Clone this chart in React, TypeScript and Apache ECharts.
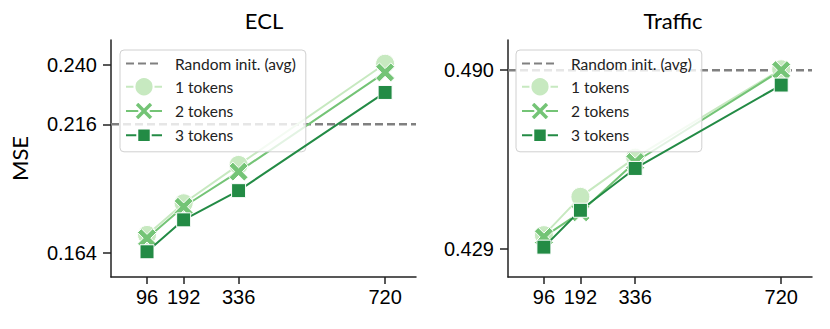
import React, { useEffect, useRef } from "react";
import * as echarts from "echarts";

const horizons = [96, 192, 336, 720];
const xTicks = [96, 192, 336, 720];
const tokenNames = ["1 tokens", "2 tokens", "3 tokens"];
const randomName = "Random init. (avg)";

const eclRandom = 0.216;
const ecl1 = [0.1713, 0.1841, 0.1996, 0.2405];
const ecl2 = [0.17, 0.1827, 0.1969, 0.237];
const ecl3 = [0.1645, 0.1774, 0.1892, 0.2289];
const eclTicks = [0.164, 0.216, 0.24];

const trafficRandom = 0.49;
const traffic1 = [0.4336, 0.4467, 0.4601, 0.4903];
const traffic2 = [0.433, 0.4414, 0.4586, 0.49];
const traffic3 = [0.4295, 0.4421, 0.4564, 0.4849];
const trafficTicks = [0.429, 0.49];

const colors = ["#c7e9c0", "#74c476", "#238b45"];
const X_PATH =
  "path://M0,2 L2,0 L5,3 L8,0 L10,2 L7,5 L10,8 L8,10 L5,7 L2,10 L0,8 L3,5 Z";
const SQ_PATH = "path://M0,0 M20,20 M3,3 L17,3 L17,17 L3,17 Z";
const symbols = ["circle", X_PATH, SQ_PATH];
const symbolSizes = [19, 19, 20];

const X_MIN = 1.6;
const X_MAX = 801;

export default function App() {
  const ref = useRef<HTMLDivElement>(null);
  useEffect(() => {
    if (!ref.current) return;
    const chart = echarts.init(ref.current, null, { renderer: "svg" });
    const tickFont = { fontFamily: "Liberation Sans", fontSize: 20, color: "#000" };
    const axisLineStyle = { color: "#222", width: 1.5 };

    const makeX = (gridIndex: number) => ({
      type: "value",
      gridIndex,
      min: X_MIN,
      max: X_MAX,
      splitLine: { show: false },
      axisLine: { lineStyle: axisLineStyle },
      axisTick: { show: true, length: 7, lineStyle: axisLineStyle, customValues: xTicks },
      axisLabel: { ...tickFont, margin: 10, customValues: xTicks, formatter: (v: number) => String(v) },
    });
    const makeY = (gridIndex: number, min: number, max: number, ticks: number[], name: string) => ({
      type: "value",
      gridIndex,
      min,
      max,
      name,
      nameLocation: "middle",
      nameGap: 81,
      nameTextStyle: { fontFamily: "Lato", fontSize: 22, color: "#000" },
      splitLine: { show: false },
      axisLine: { show: true, lineStyle: axisLineStyle },
      axisTick: { show: true, length: 8, lineStyle: axisLineStyle, customValues: ticks },
      axisLabel: { ...tickFont, margin: 14, customValues: ticks, formatter: (v: number) => v.toFixed(3) },
    });

    const makeSeries = (idx: number, randomVal: number, data: number[][]) => {
      const out: any[] = [
        {
          type: "line",
          name: randomName,
          xAxisIndex: idx,
          yAxisIndex: idx,
          data: [
            [X_MIN, randomVal],
            [X_MAX, randomVal],
          ],
          symbol: "none",
          color: "#808080",
          lineStyle: { color: "#808080", width: 2.5, type: [8, 4] },
          z: 1,
        },
      ];
      data.forEach((vals, i) => {
        out.push({
          type: "line",
          name: tokenNames[i],
          xAxisIndex: idx,
          yAxisIndex: idx,
          data: horizons.map((h, j) => [h, vals[j]]),
          symbol: symbols[i],
          symbolSize: symbolSizes[i],
          showSymbol: true,
          color: colors[i],
          lineStyle: { color: colors[i], width: 2 },
          itemStyle: { color: colors[i], borderColor: "#fff", borderWidth: 1 },
          z: 2 + i,
        });
      });
      return out;
    };

    const makeLegend = (left: number) => ({
      orient: "vertical",
      left,
      top: 50,
      data: [{ name: randomName, itemStyle: { opacity: 0 } }, ...tokenNames.map((n) => ({ name: n }))],
      itemWidth: 36,
      itemHeight: 24,
      itemGap: 3,
      padding: [4, 10, 6, 5],
      backgroundColor: "rgba(255,255,255,0.8)",
      borderColor: "#d0d0d0",
      borderWidth: 1,
      borderRadius: 4,
      formatter: (n: string) => "{g|}{t|" + n + "}",
      textStyle: {
        fontFamily: "Lato",
        fontSize: 15.5,
        color: "#222",
        rich: {
          g: { width: 8, fontSize: 15.5 },
          t: { fontFamily: "Lato", fontSize: 15.5, color: "#222" },
        },
      },
    });

    chart.setOption({
      animation: false,
      title: [
        { text: "ECL", left: 264, top: 9, textAlign: "center", padding: 0, textStyle: { fontFamily: "Lato", fontSize: 22, fontWeight: "normal", color: "#000" } },
        { text: "Traffic", left: 673, top: 9, textAlign: "center", padding: 0, textStyle: { fontFamily: "Lato", fontSize: 22, fontWeight: "normal", color: "#000" } },
      ],
      grid: [
        { left: 111, top: 40, width: 305, height: 237 },
        { left: 508, top: 40, width: 304, height: 237 },
      ],
      xAxis: [makeX(0), makeX(1)],
      yAxis: [
        makeY(0, 0.1543, 0.2501, eclTicks, "MSE"),
        makeY(1, 0.4193, 0.5003, trafficTicks, ""),
      ],
      legend: [makeLegend(120), makeLegend(516)],
      series: [
        ...makeSeries(0, eclRandom, [ecl1, ecl2, ecl3]),
        ...makeSeries(1, trafficRandom, [traffic1, traffic2, traffic3]),
      ],
    });
    return () => chart.dispose();
  }, []);
  return <div ref={ref} style={{ width: 830, height: 329, margin: -8 }} />;
}
